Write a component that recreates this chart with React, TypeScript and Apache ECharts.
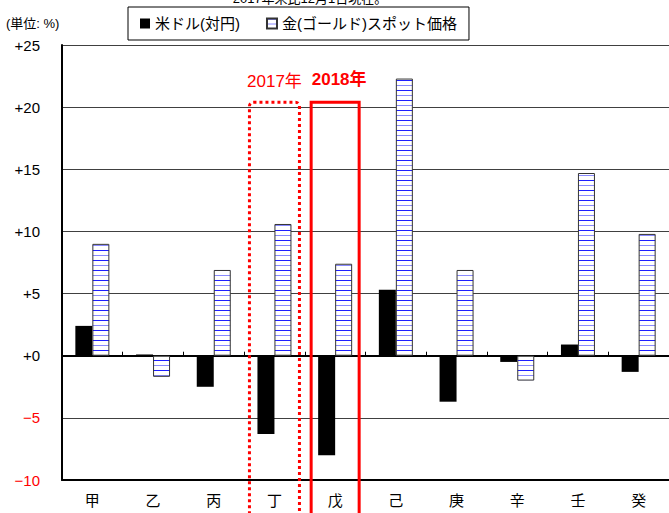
import React, { useEffect, useRef } from "react";
import * as echarts from "echarts";

// Categories along the x axis
const categories = ["甲", "乙", "丙", "丁", "戊", "己", "庚", "辛", "壬", "癸"];
// Change (%) of the US dollar against the yen
const usdJpy = [2.4, 0.1, -2.5, -6.3, -8.0, 5.3, -3.7, -0.5, 0.9, -1.3];
// Change (%) of the gold spot price
const goldSpot = [9.0, -1.7, 6.9, 10.6, 7.4, 22.3, 6.9, -2.0, 14.7, 9.8];
// Value axis range
const yMin = -10;
const yMax = 25;
const yStep = 5;
// Highlighted categories and their captions
const highlight2017 = { category: "丁", label: "2017年" };
const highlight2018 = { category: "戊", label: "2018年" };
const boxTopValue = 20.4;

const seriesNames = ["米ドル(対円)", "金(ゴールド)スポット価格"];
const unitText = "(単位: %)";
const headText = "2017年末比12月1日現在。";

const FONT = "'Liberation Sans', 'Noto Sans CJK JP', sans-serif";

function makeStripes(): HTMLCanvasElement {
  const c = document.createElement("canvas");
  c.width = 4;
  c.height = 10;
  const ctx = c.getContext("2d")!;
  ctx.fillStyle = "#ffffff";
  ctx.fillRect(0, 0, 4, 10);
  ctx.fillStyle = "#1f1fff";
  ctx.fillRect(0, 0, 4, 1);
  ctx.fillStyle = "#8a8aff";
  ctx.fillRect(0, 5, 4, 1);
  return c;
}

export default function App() {
  const ref = useRef<HTMLDivElement>(null);

  useEffect(() => {
    document.body.style.margin = "0";
    if (!ref.current) return;
    const chart = echarts.init(ref.current, undefined, { renderer: "svg" });
    const stripes = makeStripes();

    chart.setOption({
      animation: false,
      textStyle: { fontFamily: FONT },
      grid: { left: 62, right: -1, top: 45, bottom: 33, containLabel: false },
      legend: {
        left: 128,
        top: 7,
        padding: [9, 12, 9, 12],
        itemGap: 26,
        itemWidth: 10,
        itemHeight: 10,
        icon: "rect",
        borderColor: "#000",
        borderWidth: 1,
        textStyle: { fontSize: 15, color: "#000", fontFamily: FONT },
        data: seriesNames,
      },
      xAxis: [
        {
          type: "category",
          data: categories,
          axisLine: { onZero: true, lineStyle: { color: "#000", width: 2 } },
          axisTick: { show: true, inside: true, length: 4, lineStyle: { color: "#000", width: 1 } },
          axisLabel: { show: false },
          splitLine: { show: false },
        },
        {
          type: "category",
          data: categories,
          position: "bottom",
          axisLine: { onZero: false, lineStyle: { color: "#000", width: 2 } },
          axisTick: { show: false },
          axisLabel: { fontSize: 15, color: "#000", margin: 13, fontFamily: FONT },
          splitLine: { show: false },
        },
      ],
      yAxis: {
        type: "value",
        min: yMin,
        max: yMax,
        interval: yStep,
        axisLine: { show: true, lineStyle: { color: "#000", width: 2 } },
        axisTick: { show: false },
        splitLine: { show: true, lineStyle: { color: "#404040", width: 1 } },
        axisLabel: {
          margin: 22,
          formatter: (v: number) => (v < 0 ? `{n|−${-v}}` : `{p|+${v}}`),
          rich: {
            n: { color: "#ff0000", fontSize: 15, fontFamily: FONT },
            p: { color: "#000", fontSize: 15, fontFamily: FONT },
          },
        },
      },
      series: [
        {
          type: "bar",
          name: seriesNames[0],
          data: usdJpy,
          xAxisIndex: 0,
          barWidth: 17,
          barGap: "0%",
          itemStyle: { color: "#000" },
        },
        {
          type: "bar",
          name: seriesNames[1],
          data: goldSpot,
          xAxisIndex: 0,
          barWidth: 17,
          barGap: "0%",
          itemStyle: {
            color: { image: stripes, repeat: "repeat" },
            borderColor: "#333",
            borderWidth: 1,
          },
        },
      ],
    });

    // Annotation boxes around the highlighted categories
    const halfW = 25;
    const boxFor = (cat: string) => {
      const [cx, top] = chart.convertToPixel({ xAxisIndex: 0, yAxisIndex: 0 }, [cat, boxTopValue]) as number[];
      return { cx, top };
    };
    const b17 = boxFor(highlight2017.category);
    const b18 = boxFor(highlight2018.category);

    chart.setOption({
      graphic: [
        {
          type: "text",
          left: 6,
          top: 17,
          style: { text: unitText, fontSize: 13, fill: "#000", fontFamily: FONT },
        },
        {
          type: "text",
          x: 310,
          y: 5,
          style: { text: headText, fontSize: 13, fill: "#000", fontFamily: FONT, align: "center", verticalAlign: "bottom" },
        },
        {
          type: "rect",
          shape: { x: b17.cx - halfW, y: b17.top, width: halfW * 2, height: 600, r: [4, 4, 0, 0] },
          style: { fill: "none", stroke: "#ff0000", lineWidth: 3, lineDash: [3, 3] },
          z: 100,
        },
        {
          type: "rect",
          shape: { x: b18.cx - halfW + 1, y: b18.top, width: halfW * 2 - 2, height: 600 },
          style: { fill: "none", stroke: "#ff0000", lineWidth: 3 },
          z: 100,
        },
        {
          type: "text",
          x: b17.cx,
          y: b17.top - 21,
          style: { text: highlight2017.label, fontSize: 17, fill: "#ff0000", fontFamily: FONT, align: "center", verticalAlign: "middle" },
          z: 100,
        },
        {
          type: "text",
          x: b18.cx + 4,
          y: b18.top - 23,
          style: { text: highlight2018.label, fontSize: 17, fontWeight: "bold", fill: "#ff0000", fontFamily: FONT, align: "center", verticalAlign: "middle" },
          z: 100,
        },
      ],
    });

    return () => chart.dispose();
  }, []);

  return <div ref={ref} style={{ width: 669, height: 513 }} />;
}
